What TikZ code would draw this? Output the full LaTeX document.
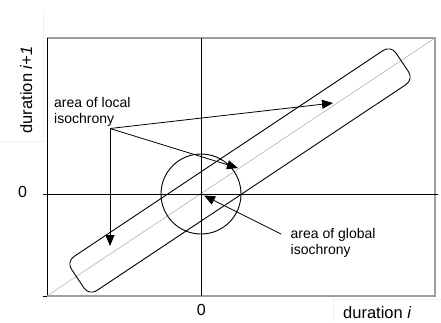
\documentclass[tikz,border=0pt]{standalone}
\usepackage{fontspec}
\setmainfont{Liberation Sans}
\usetikzlibrary{arrows.meta}
\begin{document}
\begin{tikzpicture}[x=1pt,y=-1pt,
  frameline/.style={draw=gray!75, line width=1.1pt},
  axisline/.style={draw=black, line width=1pt},
  diagline/.style={draw=gray!60, line width=0.6pt},
  faint/.style={draw=gray!12, line width=0.6pt},
  pointer/.style={draw=black, line width=0.8pt, -{Triangle[length=11pt,width=9pt]}},
  lbl/.style={font=\fontsize{14}{16}\selectfont, inner sep=0pt, align=left},
  zlbl/.style={font=\fontsize{16}{18}\selectfont, inner sep=0pt},
  axlbl/.style={font=\fontsize{16.5}{18}\selectfont, inner sep=0pt}]
\useasboundingbox (0,0) rectangle (441,322);
% faint label boxes
\draw[faint] (0,141) -- (43,141) -- (43,10);
\draw[faint] (441,299) -- (333,299) -- (333,322);
% frame
\coordinate (fTL) at (47,38);
\coordinate (fTR) at (435,38);
\coordinate (fBR) at (435,296);
\coordinate (fBL) at (47,296);
\draw[frameline] (fBL) -- (fBR) -- (fTR) -- (fTL);
\draw[axisline] (fTL) -- (fBL);
\coordinate (tickL) at (43,296);
\draw[axisline] (tickL) -- (fBL);
% diagonal
\draw[diagline] (fBL) -- (fTR);
% axes
\coordinate (vT) at (201,38);
\coordinate (vB) at (201,296);
\coordinate (hL) at (43,194);
\coordinate (hR) at (438,194);
\draw[axisline] (vT) -- (vB);
\draw[axisline] (hL) -- (hR);
% band of local isochrony
\node[draw=black, line width=0.9pt, rounded corners=9pt, minimum width=390pt,
      minimum height=41pt, inner sep=0pt, rotate=33.67] (band) at (240,170.5) {};
% circle of global isochrony
\node[draw=black, line width=0.9pt, circle, minimum size=80pt, inner sep=0pt] (glob) at (201,194) {};
% labels
\node[lbl, anchor=north west] (local) at (54,97.5) {area of local\\isochrony};
\node[lbl, anchor=north west] (global) at (290.5,228.5) {area of global\\isochrony};
\node[zlbl, anchor=center] (zeroL) at (22.5,191.7) {0};
\node[zlbl, anchor=center] (zeroB) at (201.3,310) {0};
\node[axlbl, anchor=base, rotate=90] (ylab) at (32,90) {duration \textit{i+1}};
\node[axlbl, anchor=base west] (xlab) at (343,318.5) {duration \textit{i}};
% pointers
\coordinate (br) at (110,128.5);
\coordinate (t1) at (333,103);
\coordinate (t2) at (238,168);
\coordinate (t3) at (110,246);
\coordinate (gs) at (281,234);
\coordinate (gt) at (204,195.5);
\draw[pointer] (br) -- (t1);
\draw[pointer] (br) -- (t2);
\draw[pointer] (br) -- (t3);
\draw[pointer] (gs) -- (gt);
\end{tikzpicture}
\end{document}
